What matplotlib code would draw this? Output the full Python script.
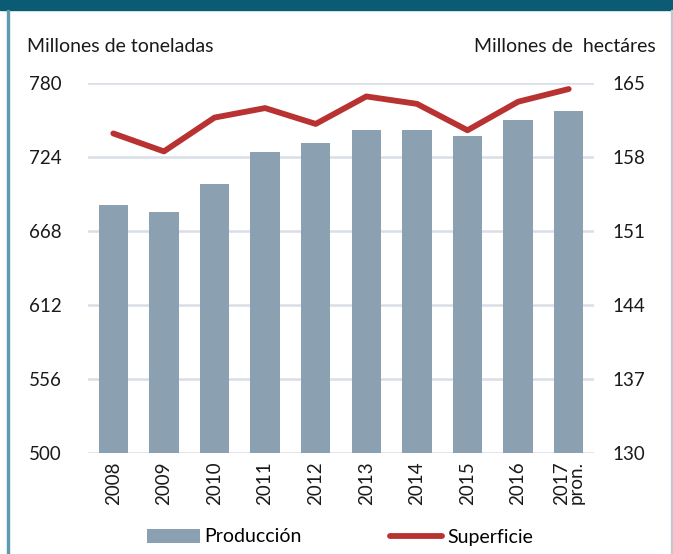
import matplotlib
matplotlib.use("Agg")
import matplotlib.pyplot as plt
import numpy as np
from matplotlib.lines import Line2D
from matplotlib.patches import Patch, Rectangle

years = ["2008", "2009", "2010", "2011", "2012", "2013", "2014", "2015", "2016", "2017\npron."]
produccion = [687.5, 682.5, 703.5, 727.5, 734.5, 744.0, 744.5, 740.0, 751.5, 758.5]
superficie = [160.2, 158.5, 161.7, 162.6, 161.1, 163.7, 163.0, 160.5, 163.2, 164.4]
left_ticks = [500, 556, 612, 668, 724, 780]
right_ticks = [130, 137, 144, 151, 158, 165]

bar_color = "#8BA1B1"
line_color = "#B83232"
grid_color = "#D9DFE6"
text_color = "#1A1A1A"

plt.rcParams["font.family"] = ["Lato", "DejaVu Sans"]

W, H = 673, 554
fig = plt.figure(figsize=(W / 100, H / 100), dpi=100)

# frame: dark band on top, thin side lines
fig.patches.append(Rectangle((0, 1 - 9.5 / H), 1, 9.5 / H, transform=fig.transFigure,
                             color="#0B5B74", zorder=0))
fig.patches.append(Rectangle((7.3 / W, 0), 1.6 / W, 1 - 9.5 / H, transform=fig.transFigure,
                             color="#5E9BB0", zorder=0))
fig.patches.append(Rectangle((671 / W, 0), 1.5 / W, 1 - 9.5 / H, transform=fig.transFigure,
                             color="#BFC9CE", zorder=0))

x0, x1 = 88, 594
y_top, y_bot = 82.7, 452.7
ax = fig.add_axes([x0 / W, 1 - y_bot / H, (x1 - x0) / W, (y_bot - y_top) / H])
ax2 = ax.twinx()

x = np.arange(len(years))
ax.bar(x, produccion, width=0.58, color=bar_color, zorder=2)
ax.set_ylim(500, 780)
ax.set_xlim(-0.5, len(years) - 0.5)
ax.set_yticks(left_ticks)
ax.yaxis.grid(True, color=grid_color, linewidth=1.8, zorder=0)
ax.set_axisbelow(True)
ax.set_xticks(x)
ax.set_xticklabels(years, rotation=90, fontsize=13.5, color=text_color, linespacing=0.85,
                   va="top")

ax2.plot(x, superficie, color=line_color, linewidth=4.2, solid_capstyle="round", zorder=3)
ax2.set_ylim(130, 165)
ax2.set_yticks(right_ticks)

for a in (ax, ax2):
    for s in a.spines.values():
        s.set_visible(False)
    a.tick_params(length=0, labelsize=13.5, colors=text_color)
ax.tick_params(axis="y", pad=19)
ax2.tick_params(axis="y", pad=13)
ax.tick_params(axis="x", pad=6)

fig.text(27 / W, 1 - 47 / H, "Millones de toneladas", fontsize=14, color=text_color,
         ha="left", va="center")
fig.text(656 / W, 1 - 47 / H, "Millones de  hectáres", fontsize=14, color=text_color,
         ha="right", va="center")

handles = [Patch(facecolor=bar_color, edgecolor="none"),
           Line2D([0], [0], color=line_color, linewidth=4.2, solid_capstyle="round")]
fig.legend(handles, ["Producción", "Superficie"], loc="center", ncol=2, frameon=False,
           bbox_to_anchor=(340 / W, 1 - 537 / H), fontsize=14, handlelength=2.7,
           handleheight=0.75, handletextpad=0.25, columnspacing=4.5)

fig.savefig("out.png", dpi=100)
